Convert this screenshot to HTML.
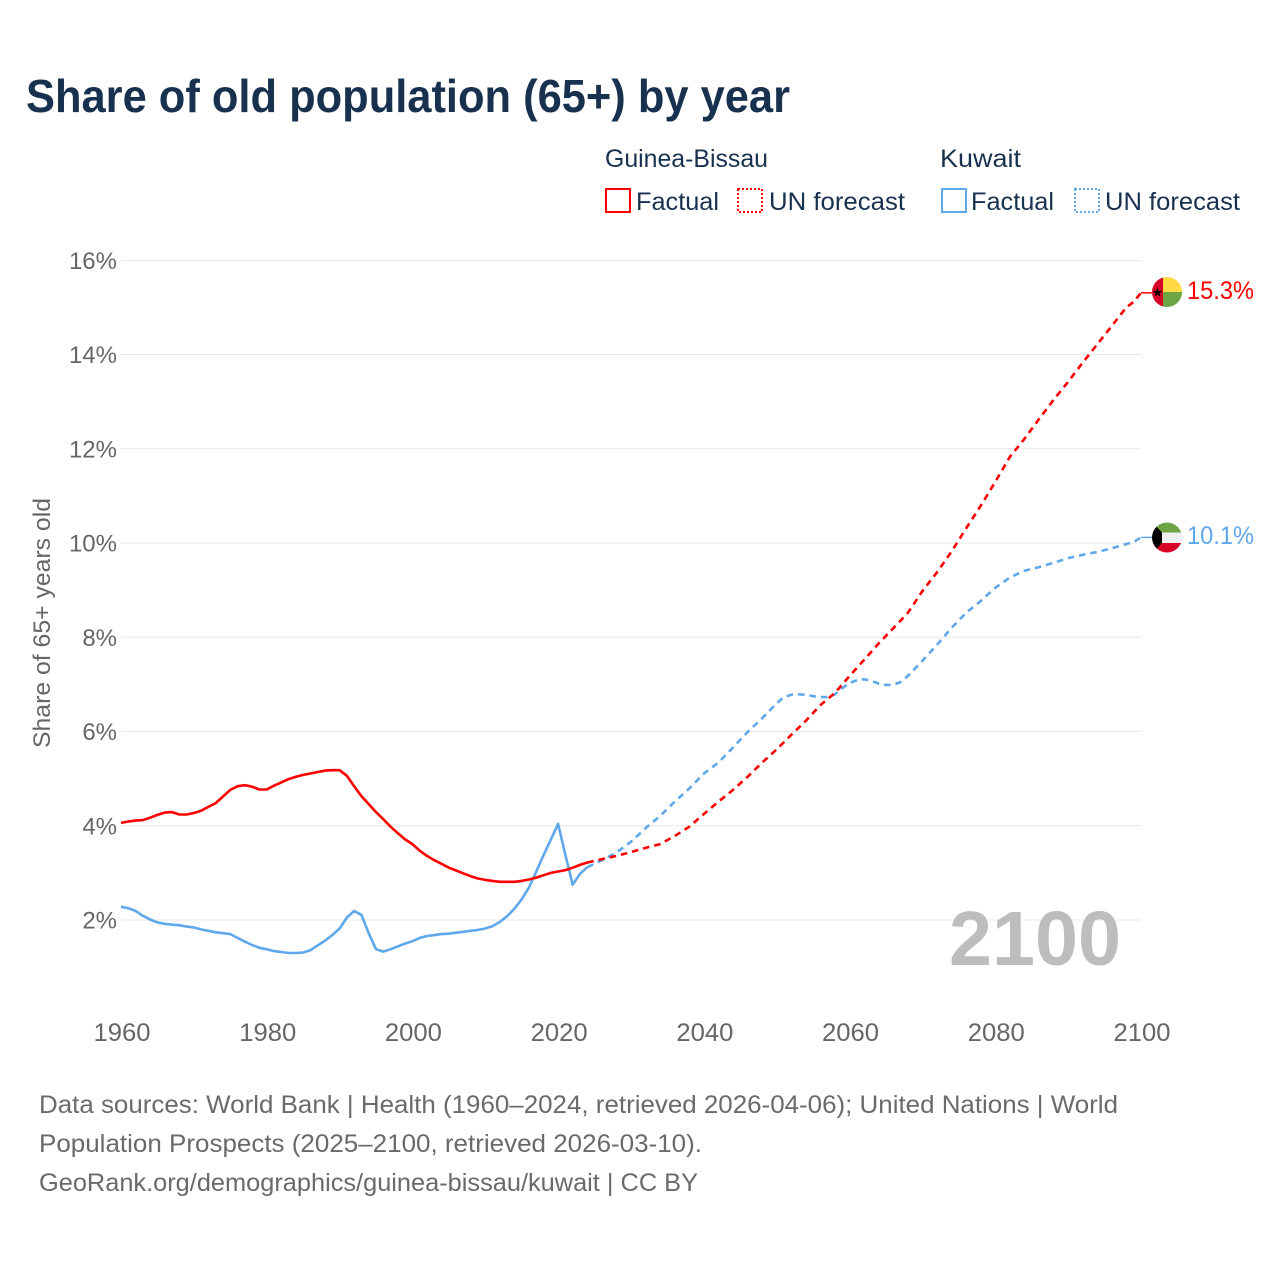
<!DOCTYPE html>
<html lang="en">
<head>
<meta charset="utf-8">
<title>Share of old population (65+) by year</title>
<style>
  html, body { margin: 0; padding: 0; background: #fff; }
  svg { display: block; font-family: "Liberation Sans", sans-serif; }
</style>
</head>
<body>
<svg id="chart" xmlns="http://www.w3.org/2000/svg" width="1280" height="1280" viewBox="0 0 1280 1280">
  <rect width="1280" height="1280" fill="#ffffff"/>
  <text x="26" y="112" font-size="46" font-weight="700" fill="#18314f" textLength="764" lengthAdjust="spacingAndGlyphs">Share of old population (65+) by year</text>

  <g font-size="25" fill="#18314f">
    <text x="605" y="167" textLength="163" lengthAdjust="spacingAndGlyphs">Guinea-Bissau</text>
    <text x="940" y="167" textLength="81" lengthAdjust="spacingAndGlyphs">Kuwait</text>
    <g>
      <rect x="606" y="189" width="24" height="23" fill="none" stroke="#ff0000" stroke-width="2"/>
      <text x="636" y="210" textLength="83" lengthAdjust="spacingAndGlyphs">Factual</text>
    </g>
    <g>
      <rect x="738" y="189" width="24" height="23" fill="none" stroke="#ff0000" stroke-width="2" stroke-dasharray="2 2"/>
      <text x="769" y="210" textLength="136" lengthAdjust="spacingAndGlyphs">UN forecast</text>
    </g>
    <g>
      <rect x="942" y="189" width="24" height="23" fill="none" stroke="#5fa8ec" stroke-width="2"/>
      <text x="971" y="210" textLength="83" lengthAdjust="spacingAndGlyphs">Factual</text>
    </g>
    <g>
      <rect x="1075" y="189" width="24" height="23" fill="none" stroke="#5fa8ec" stroke-width="2" stroke-dasharray="2 2"/>
      <text x="1105" y="210" textLength="135" lengthAdjust="spacingAndGlyphs">UN forecast</text>
    </g>
  </g>

  <g id="grid"></g>
  <g id="y-ticks"></g>
  <g id="x-ticks"></g>

  <text transform="translate(50 623) rotate(-90)" text-anchor="middle" font-size="24" fill="#666666" textLength="250" lengthAdjust="spacingAndGlyphs">Share of 65+ years old</text>
  <text x="949" y="965" font-size="77" font-weight="700" fill="#bdbdbd" textLength="172" lengthAdjust="spacingAndGlyphs">2100</text>

  <g id="series"></g>

  <defs>
    <clipPath id="flag-clip-gw"><circle cx="1167" cy="292" r="15"/></clipPath>
    <clipPath id="flag-clip-kw"><circle cx="1167" cy="537.5" r="15"/></clipPath>
  </defs>
  <g clip-path="url(#flag-clip-gw)">
    <rect x="1152" y="277" width="11" height="30" fill="#d80027"/>
    <rect x="1163" y="277" width="19" height="15" fill="#ffda44"/>
    <rect x="1163" y="292" width="19" height="15" fill="#6da544"/>
    <polygon points="1157.5,287.5 1158.7,291 1162.4,291 1159.4,293.2 1160.5,296.7 1157.5,294.5 1154.5,296.7 1155.6,293.2 1152.6,291 1156.3,291" fill="#000000"/>
  </g>
  <g clip-path="url(#flag-clip-kw)">
    <rect x="1152" y="522" width="30" height="10.5" fill="#6da544"/>
    <rect x="1152" y="532.5" width="30" height="10.5" fill="#f0f0f0"/>
    <rect x="1152" y="543" width="30" height="10.5" fill="#d80027"/>
    <polygon points="1152,522 1162,532.5 1162,543 1152,553.5" fill="#000000"/>
  </g>
  <text x="1187" y="299" font-size="25" fill="#ff0000" textLength="67" lengthAdjust="spacingAndGlyphs">15.3%</text>
  <text x="1187" y="544" font-size="25" fill="#5fa8ec" textLength="67" lengthAdjust="spacingAndGlyphs">10.1%</text>

  <g font-size="25" fill="#6a6a6a">
    <text x="39" y="1113" textLength="1079" lengthAdjust="spacingAndGlyphs">Data sources: World Bank | Health (1960–2024, retrieved 2026-04-06); United Nations | World</text>
    <text x="39" y="1152" textLength="663" lengthAdjust="spacingAndGlyphs">Population Prospects (2025–2100, retrieved 2026-03-10).</text>
    <text x="39" y="1191" textLength="659" lengthAdjust="spacingAndGlyphs">GeoRank.org/demographics/guinea-bissau/kuwait | CC BY</text>
  </g>
</svg>

<script>
const yTickValues = [2, 4, 6, 8, 10, 12, 14, 16];
const yTickLabels = ["2%", "4%", "6%", "8%", "10%", "12%", "14%", "16%"];
const xTickValues = [1960, 1980, 2000, 2020, 2040, 2060, 2080, 2100];
const xTickLabels = ["1960", "1980", "2000", "2020", "2040", "2060", "2080", "2100"];

const factualYears = [
  1960,1961,1962,1963,1964,1965,1966,1967,1968,1969,
  1970,1971,1972,1973,1974,1975,1976,1977,1978,1979,
  1980,1981,1982,1983,1984,1985,1986,1987,1988,1989,
  1990,1991,1992,1993,1994,1995,1996,1997,1998,1999,
  2000,2001,2002,2003,2004,2005,2006,2007,2008,2009,
  2010,2011,2012,2013,2014,2015,2016,2017,2018,2019,
  2020,2021,2022,2023,2024
];
const guineaBissauFactual = [
  4.06,4.09,4.11,4.12,4.17,4.23,4.28,4.29,4.24,4.24,
  4.27,4.32,4.40,4.48,4.62,4.76,4.84,4.86,4.83,4.77,
  4.77,4.85,4.92,4.99,5.04,5.08,5.11,5.14,5.17,5.18,
  5.18,5.06,4.84,4.63,4.46,4.29,4.14,3.98,3.84,3.71,
  3.61,3.47,3.36,3.27,3.19,3.11,3.05,2.99,2.93,2.88,
  2.85,2.83,2.81,2.81,2.81,2.83,2.86,2.90,2.95,3.00,
  3.03,3.06,3.11,3.17,3.22
];
const kuwaitFactual = [
  2.28,2.25,2.19,2.09,2.01,1.95,1.92,1.90,1.89,1.86,
  1.84,1.80,1.77,1.74,1.72,1.70,1.62,1.54,1.47,1.41,
  1.38,1.34,1.32,1.30,1.30,1.31,1.36,1.46,1.56,1.68,
  1.82,2.05,2.19,2.11,1.72,1.38,1.33,1.38,1.44,1.50,
  1.55,1.62,1.66,1.68,1.70,1.71,1.73,1.75,1.77,1.79,
  1.82,1.87,1.96,2.08,2.24,2.44,2.69,3.03,3.38,3.71,
  4.04,3.38,2.75,2.98,3.12
];

const guineaBissauForecastYears = [
  2024,2026,2028,2030,2032,2034,2036,2038,2040,2042,2044,2046,2048,2050,
  2052,2054,2056,2058,2060,2062,2064,2066,2068,2070,2072,2074,2076,2078,
  2080,2082,2084,2086,2088,2090,2092,2094,2096,2098,2099,2100
];
const guineaBissauForecast = [
  3.22,3.29,3.36,3.44,3.53,3.61,3.78,3.98,4.25,4.51,4.76,5.04,5.34,5.62,
  5.93,6.23,6.56,6.82,7.18,7.52,7.87,8.19,8.52,8.98,9.38,9.82,10.31,10.79,
  11.30,11.83,12.21,12.63,13.04,13.42,13.83,14.22,14.61,15.00,15.12,15.31
];
const kuwaitForecastYears = [
  2024,2026,2028,2030,2032,2034,2036,2038,2040,2042,2044,2046,2048,2050,
  2051,2052,2053,2054,2055,2056,2057,2058,2059,2060,2061,2062,2063,2064,
  2065,2066,2067,2068,2070,2072,2074,2076,2078,2080,2082,2084,2086,2088,
  2090,2092,2094,2096,2098,2099,2100
];
const kuwaitForecast = [
  3.12,3.27,3.43,3.66,3.95,4.21,4.51,4.79,5.11,5.34,5.66,5.99,6.28,6.60,
  6.73,6.78,6.79,6.78,6.75,6.73,6.73,6.79,6.92,7.03,7.09,7.11,7.07,7.02,
  6.99,6.99,7.05,7.18,7.50,7.84,8.20,8.52,8.77,9.05,9.27,9.41,9.49,9.58,
  9.68,9.75,9.81,9.89,9.98,10.02,10.12
];

const SVG_NS = "http://www.w3.org/2000/svg";
const PLOT = { x0: 121, x1: 1141, y2pct: 920, pxPerPct: 47.12, yearMin: 1960, yearMax: 2100 };

function xScale(year) {
  return PLOT.x0 + (year - PLOT.yearMin) * (PLOT.x1 - PLOT.x0) / (PLOT.yearMax - PLOT.yearMin);
}
function yScale(value) {
  return PLOT.y2pct - (value - 2) * PLOT.pxPerPct;
}
function linePoints(years, values) {
  return years.map(function (yr, i) {
    return xScale(yr).toFixed(1) + "," + yScale(values[i]).toFixed(1);
  }).join(" ");
}

const gridGroup = document.getElementById("grid");
const yTickGroup = document.getElementById("y-ticks");
const xTickGroup = document.getElementById("x-ticks");
const seriesGroup = document.getElementById("series");

yTickValues.forEach(function (v, i) {
  const line = document.createElementNS(SVG_NS, "line");
  
  
  line.setAttribute("x1", PLOT.x0);
  line.setAttribute("x2", PLOT.x1);
  line.setAttribute("y1", yScale(v));
  line.setAttribute("y2", yScale(v));
  line.setAttribute("stroke", "#e8e8e8");
  line.setAttribute("stroke-width", "1");
  gridGroup.appendChild(line);

  const label = document.createElementNS(SVG_NS, "text");
  
  
  label.setAttribute("x", 117);
  label.setAttribute("y", yScale(v) + 8.5);
  label.setAttribute("text-anchor", "end");
  label.setAttribute("font-size", "24");
  label.setAttribute("fill", "#666666");
  label.textContent = yTickLabels[i];
  yTickGroup.appendChild(label);
});

xTickValues.forEach(function (yr, i) {
  const label = document.createElementNS(SVG_NS, "text");
  
  
  label.setAttribute("x", xScale(yr) + 1);
  label.setAttribute("y", 1041);
  label.setAttribute("text-anchor", "middle");
  label.setAttribute("font-size", "25");
  label.setAttribute("fill", "#666666");
  label.setAttribute("textLength", "57");
  label.setAttribute("lengthAdjust", "spacingAndGlyphs");
  label.textContent = xTickLabels[i];
  xTickGroup.appendChild(label);
});

function addLine(name, years, values, color, dash, width) {
  const line = document.createElementNS(SVG_NS, "polyline");
  
  
  line.setAttribute("points", linePoints(years, values));
  line.setAttribute("fill", "none");
  line.setAttribute("stroke", color);
  line.setAttribute("stroke-width", width);
  line.setAttribute("stroke-linejoin", "round");
  if (dash) line.setAttribute("stroke-dasharray", dash);
  seriesGroup.appendChild(line);
}
function addConnector(name, year, value, color) {
  const line = document.createElementNS(SVG_NS, "line");
  
  
  line.setAttribute("x1", xScale(year));
  line.setAttribute("x2", 1152);
  line.setAttribute("y1", yScale(value));
  line.setAttribute("y2", yScale(value));
  line.setAttribute("stroke", color);
  line.setAttribute("stroke-width", "1.5");
  seriesGroup.appendChild(line);
}

addLine("kuwait-factual-line", factualYears, kuwaitFactual, "#5fa8ec", null, 2.6);
addLine("guinea-bissau-factual-line", factualYears, guineaBissauFactual, "#ff0000", null, 2.6);
addLine("kuwait-forecast-line", kuwaitForecastYears, kuwaitForecast, "#5fa8ec", "6.5 5", 2.6);
addLine("guinea-bissau-forecast-line", guineaBissauForecastYears, guineaBissauForecast, "#ff0000", "6.5 5", 2.6);
addConnector("guinea-bissau-flag-connector", guineaBissauForecastYears[guineaBissauForecastYears.length - 1], guineaBissauForecast[guineaBissauForecast.length - 1], "#ff0000");
addConnector("kuwait-flag-connector", kuwaitForecastYears[kuwaitForecastYears.length - 1], kuwaitForecast[kuwaitForecast.length - 1], "#5fa8ec");
</script>
</body>
</html>
